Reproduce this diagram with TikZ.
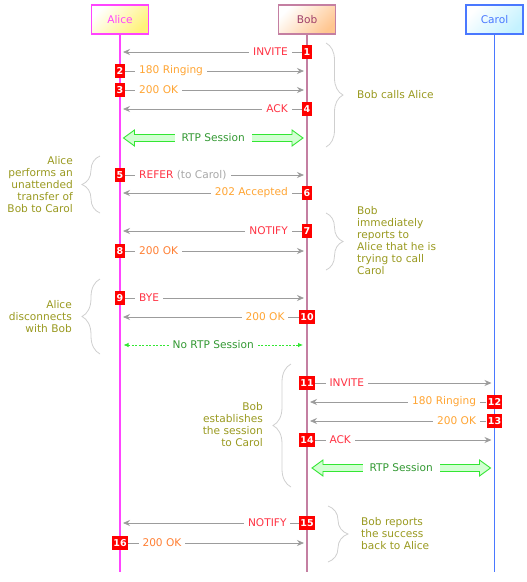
\documentclass[tikz,border=0pt]{standalone}
\usepackage{fontspec}
\setmainfont{DejaVu Sans}
\usetikzlibrary{arrows.meta,calc,decorations.pathreplacing}
\definecolor{alicepink}{HTML}{FF44FF}
\definecolor{aliceyellow}{HTML}{FFF27A}
\definecolor{bobrose}{HTML}{C47FA2}
\definecolor{bobtext}{HTML}{A0406A}
\definecolor{bobpeach}{HTML}{FFC690}
\definecolor{carolblue}{HTML}{4A78FF}
\definecolor{carolcyan}{HTML}{C4F2FF}
\definecolor{sipred}{HTML}{FF3344}
\definecolor{sipamber}{HTML}{FFA533}
\definecolor{sipcoral}{HTML}{FF7F33}
\definecolor{msggray}{HTML}{9C9C9C}
\definecolor{refergray}{HTML}{A8A8A8}
\definecolor{noteolive}{HTML}{99991F}
\definecolor{bracegray}{HTML}{CFCFCF}
\definecolor{rtpedge}{HTML}{33E633}
\definecolor{rtpfill}{HTML}{D2FFD2}
\definecolor{rtptext}{HTML}{339933}

\begin{document}
\begin{tikzpicture}[x=1pt,y=-1pt,>=Stealth,font=\fontsize{10.6}{12}\selectfont,
head/.style={rectangle,minimum width=57pt,minimum height=29pt,line width=1.2pt,inner sep=0pt,shading angle=45},
lifeline/.style={line width=1.3pt},
num/.style={fill=red,text=white,font=\fontsize{9.5}{11}\selectfont\bfseries,minimum width=9pt,minimum height=13.5pt,inner xsep=1.3pt,inner ysep=0pt},
msg/.style={draw=msggray,line width=0.8pt,-{Stealth[length=7pt,width=6pt]},shorten >=3pt},
lbl/.style={fill=white,inner xsep=4pt,inner ysep=1pt},
note/.style={text=noteolive,inner sep=0pt},
curly/.style={draw=bracegray,line width=0.8pt,decorate,decoration={brace,amplitude=#1}},
rtpband/.style={draw=rtpedge,fill=rtpfill,line width=0.9pt,line join=miter},
rtplbl/.style={fill=white,text=rtptext,inner xsep=7pt,inner ysep=1pt},
nortp/.style={draw=rtpedge,line width=0.8pt,dash pattern=on 2pt off 1.5pt,{Latex[length=5pt,width=4.5pt]}-{Latex[length=5pt,width=4.5pt]}}]
\useasboundingbox (0,0) rectangle (527,582);
% participants
\node[head,draw=alicepink,text=alicepink,top color=white,bottom color=aliceyellow,shading angle=45] (alice) at (120,19.5) {Alice};
\node[head,draw=bobrose,text=bobtext,top color=white,bottom color=bobpeach,shading angle=45] (bob) at (307,19.5) {Bob};
\node[head,draw=carolblue,text=carolblue,top color=white,bottom color=carolcyan,shading angle=45] (carol) at (494.5,19.5) {Carol};
\coordinate (aliceend) at (alice |- 0,572);
\coordinate (bobend) at (bob |- 0,572);
\coordinate (carolend) at (carol |- 0,572);
\draw[lifeline,alicepink] (alice) -- (aliceend);
\draw[lifeline,bobrose] (bob) -- (bobend);
\draw[lifeline,carolblue] (carol) -- (carolend);
% messages
\foreach \num/\y/\src/\dst/\anc/\dx/\col/\txt in {
1/52/bob/alice/east/-10pt/sipred/INVITE,
2/71/alice/bob/west/10pt/sipamber/180 Ringing,
3/90/alice/bob/west/10pt/sipamber/200 OK,
4/109/bob/alice/east/-10pt/sipred/ACK,
5/175/alice/bob/west/10pt/sipred/{REFER \textcolor{refergray}{(to Carol)}},
6/193/bob/alice/east/-10pt/sipamber/202 Accepted,
7/231/bob/alice/east/-10pt/sipred/NOTIFY,
8/251/alice/bob/west/10pt/sipcoral/200 OK,
9/298/alice/bob/west/10pt/sipred/BYE,
10/317/bob/alice/east/-10pt/sipamber/200 OK,
11/383/bob/carol/west/10pt/sipred/INVITE,
12/402/carol/bob/east/-6pt/sipamber/180 Ringing,
13/421/carol/bob/east/-6pt/sipamber/200 OK,
14/440/bob/carol/west/10pt/sipred/ACK,
15/523/bob/alice/east/-8pt/sipred/NOTIFY,
16/543/alice/bob/west/10pt/sipcoral/200 OK}
{
\node[num] (n\num) at (\src |- 0,\y) {\num};
\draw[msg] (n\num) -- (\dst |- n\num) node[lbl,pos=0,anchor=\anc,xshift=\dx,text=\col] (m\num) {\txt};
}
% media sessions
\coordinate (rtpa) at ($(alice |- 0,138)+(3.5,0)$);
\coordinate (rtpb) at ($(bob |- 0,138)+(-4,0)$);
\draw[rtpband] (rtpa) -- ++(11,-8) -- ++(0,4.5) -- ($(rtpb)+(-11,-3.5)$) -- ++(0,-4.5) -- (rtpb) -- ++(-11,8) -- ++(0,-4.5) -- ($(rtpa)+(11,3.5)$) -- ++(0,4.5) -- cycle;
\node[rtplbl] (rtp1) at ($(rtpa)!0.5!(rtpb)$) {RTP Session};
\coordinate (nortpa) at ($(alice |- 0,345)+(3.5,0)$);
\coordinate (nortpb) at ($(bob |- 0,345)+(-4,0)$);
\draw[nortp] (nortpa) -- (nortpb) node[midway,lbl,text=rtptext] (nortp) {No RTP Session};
\coordinate (rtpc) at ($(bob |- 0,468)+(5,0)$);
\coordinate (rtpd) at ($(carol |- 0,468)+(-4,0)$);
\draw[rtpband] (rtpc) -- ++(11,-8) -- ++(0,4.5) -- ($(rtpd)+(-11,-3.5)$) -- ++(0,-4.5) -- (rtpd) -- ++(-11,8) -- ++(0,-4.5) -- ($(rtpc)+(11,3.5)$) -- ++(0,4.5) -- cycle;
\node[rtplbl] (rtp2) at ($(rtpc)!0.5!(rtpd)$) {RTP Session};
% braces and notes
\draw[curly=17pt] (326,43) -- (326,147);
\node[note,anchor=west] (callsnote) at (357,95) {Bob calls Alice};
\draw[curly=18pt] (100,213) -- (100,156);
\node[note,anchor=east,align=right] (transfernote) at (73,184.5) {Alice\\performs an\\unattended\\transfer of\\Bob to Carol};
\draw[curly=17pt] (326,213) -- (326,270);
\node[note,anchor=west,align=left] (trynote) at (357,241) {Bob\\immediately\\reports to\\Alice that he is\\trying to call\\Carol};
\draw[curly=18pt] (100,354) -- (100,279);
\node[note,anchor=east,align=right] (byenote) at (72,317) {Alice\\disconnects\\with Bob};
\draw[curly=18pt] (291,487) -- (291,364);
\node[note,anchor=east,align=right] (carolnote) at (263,425) {Bob\\establishes\\the session\\to Carol};
\draw[curly=20pt] (328,506) -- (328,562);
\node[note,anchor=west,align=left] (successnote) at (361,534) {Bob reports\\the success\\back to Alice};
\end{tikzpicture}
\end{document}
